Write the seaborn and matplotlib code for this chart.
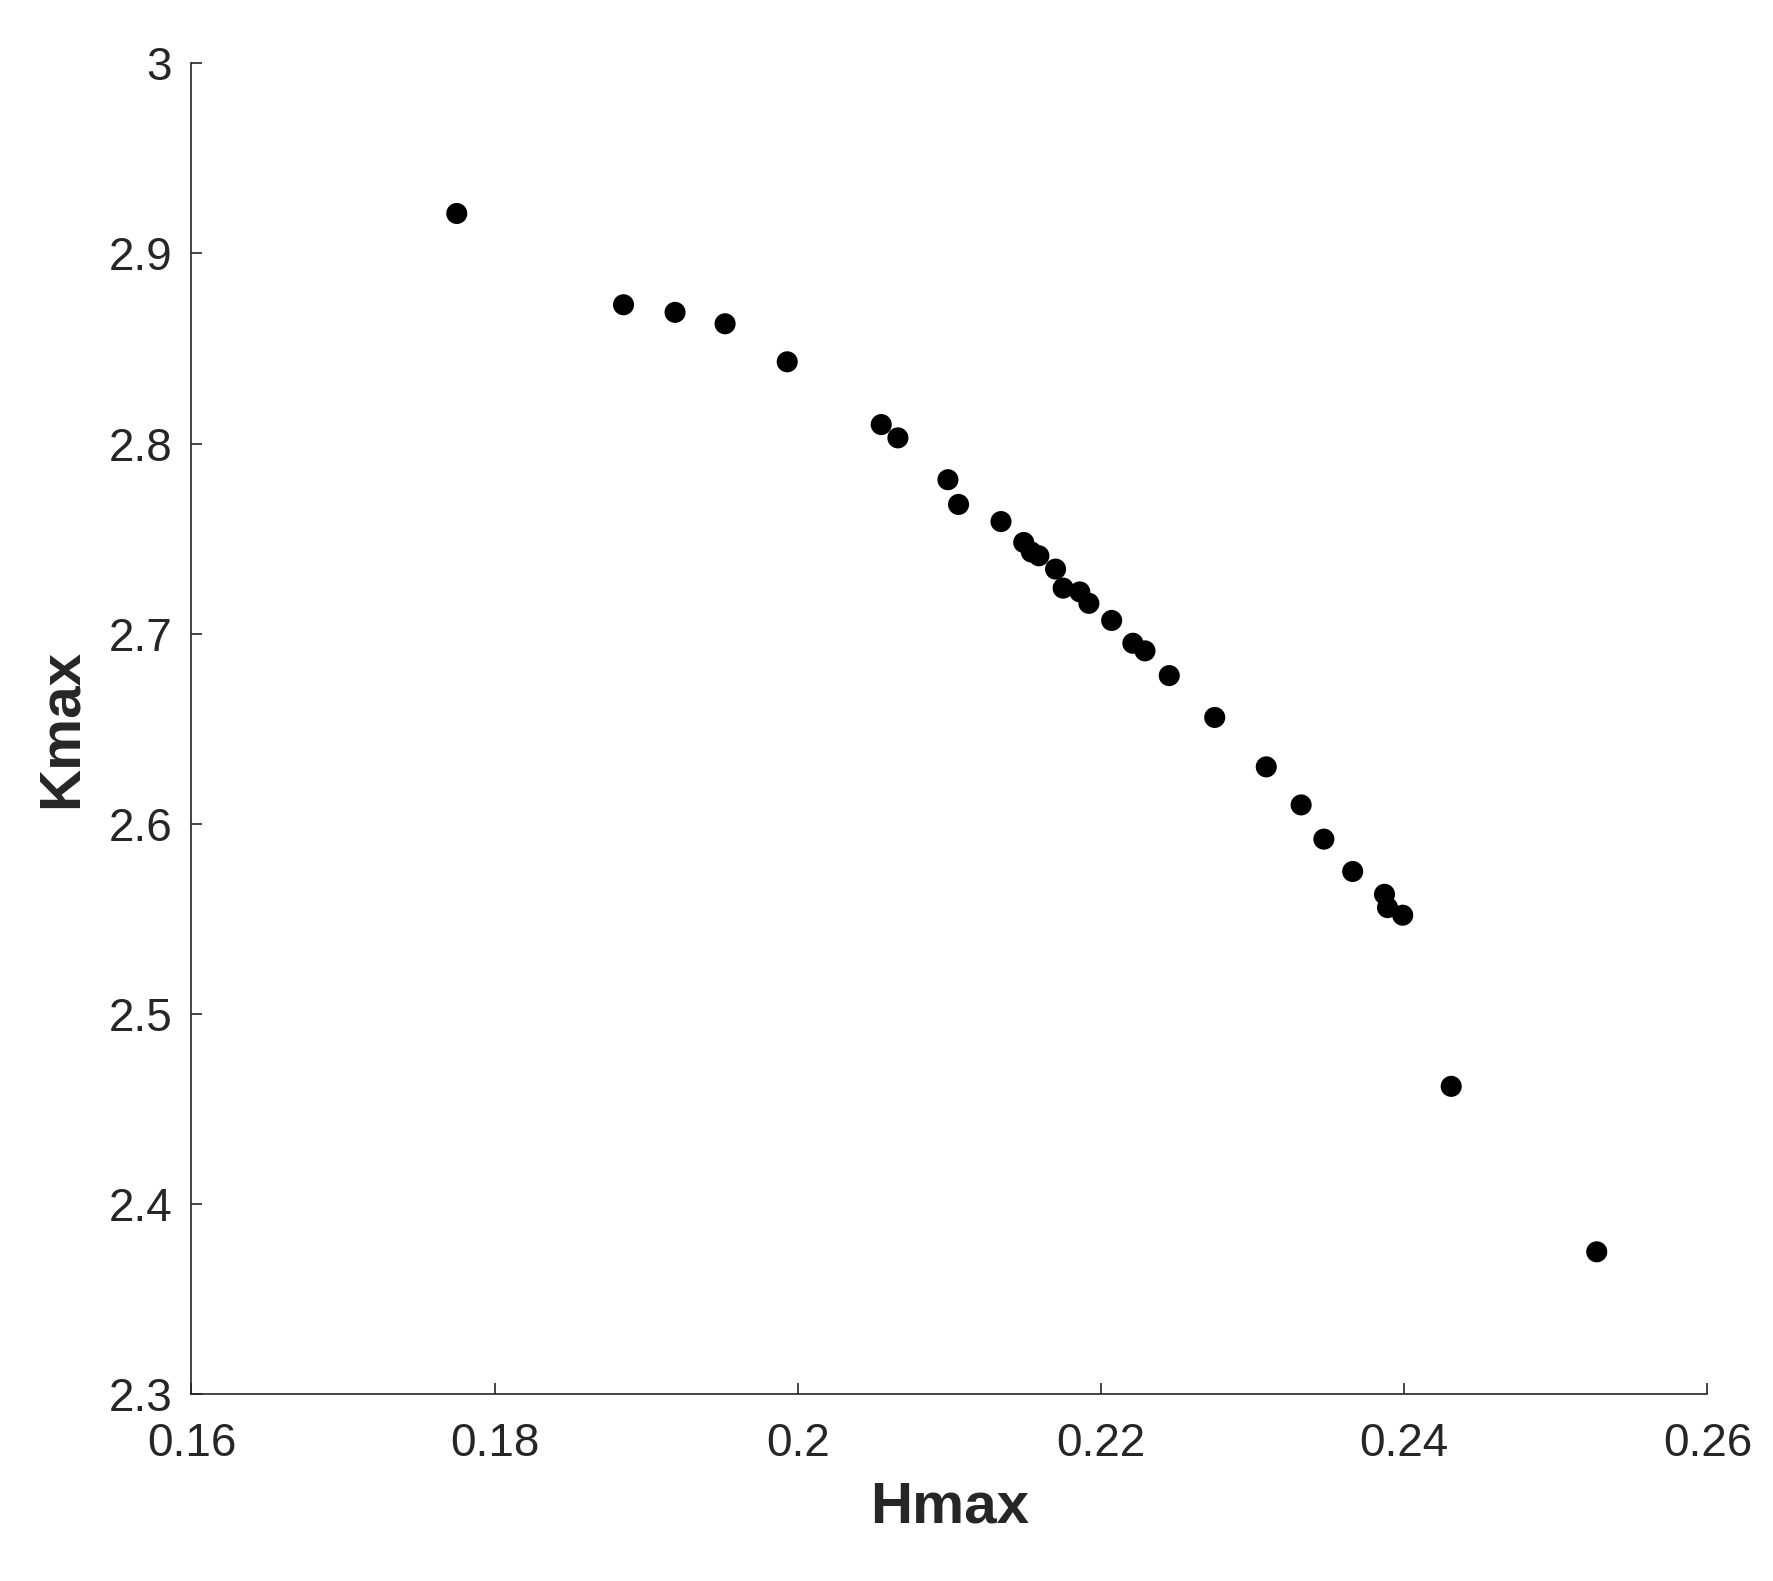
import numpy as np
import pandas as pd
import matplotlib
matplotlib.use("Agg")
import matplotlib.pyplot as plt
import seaborn as sns

sns.set_style("ticks")
plt.rcParams['font.family'] = ['Liberation Sans', 'DejaVu Sans']

hmax = [0.1775, 0.1885, 0.1919, 0.1952, 0.1993, 0.2055, 0.2066, 0.2099, 0.2106,
        0.2134, 0.2149, 0.2154, 0.2159, 0.2170, 0.2175, 0.2186, 0.2192, 0.2207,
        0.2221, 0.2229, 0.2245, 0.2275, 0.2309, 0.2332, 0.2347, 0.2366, 0.2387,
        0.2389, 0.2399, 0.2431, 0.2527]
kmax = [2.921, 2.873, 2.869, 2.863, 2.843, 2.810, 2.803, 2.781, 2.768,
        2.759, 2.748, 2.743, 2.741, 2.734, 2.724, 2.722, 2.716, 2.707,
        2.695, 2.691, 2.678, 2.656, 2.630, 2.610, 2.592, 2.575, 2.563,
        2.556, 2.552, 2.462, 2.375]
df = pd.DataFrame({"Hmax": hmax, "Kmax": kmax})

fig = plt.figure(figsize=(17.73, 15.81), dpi=100)
ax = fig.add_axes([0.108, 0.118, 0.855, 0.842])
sns.scatterplot(data=df, x="Hmax", y="Kmax", color="black", s=230, edgecolor="none", ax=ax)

ax.set_xlim(0.16, 0.26)
ax.set_ylim(2.3, 3.0)
ax.set_xticks([0.16, 0.18, 0.2, 0.22, 0.24, 0.26])
ax.set_xticklabels(["0.16", "0.18", "0.2", "0.22", "0.24", "0.26"])
ax.set_yticks([2.3, 2.4, 2.5, 2.6, 2.7, 2.8, 2.9, 3.0])
ax.set_yticklabels(["2.3", "2.4", "2.5", "2.6", "2.7", "2.8", "2.9", "3"])
ax.tick_params(direction="in", labelsize=33, length=8, width=1.2, colors="#262626")
ax.tick_params(axis="x", pad=20)
ax.tick_params(axis="y", pad=14)
for s in ["left", "bottom"]:
    ax.spines[s].set_color("#262626")
    ax.spines[s].set_linewidth(1.2)
sns.despine(ax=ax)
ax.set_xlabel("Hmax", fontsize=42, fontweight="bold", color="#262626", labelpad=10)
ax.set_ylabel("Kmax", fontsize=42, fontweight="bold", color="#262626", labelpad=14)

fig.savefig("out.png", dpi=100)
